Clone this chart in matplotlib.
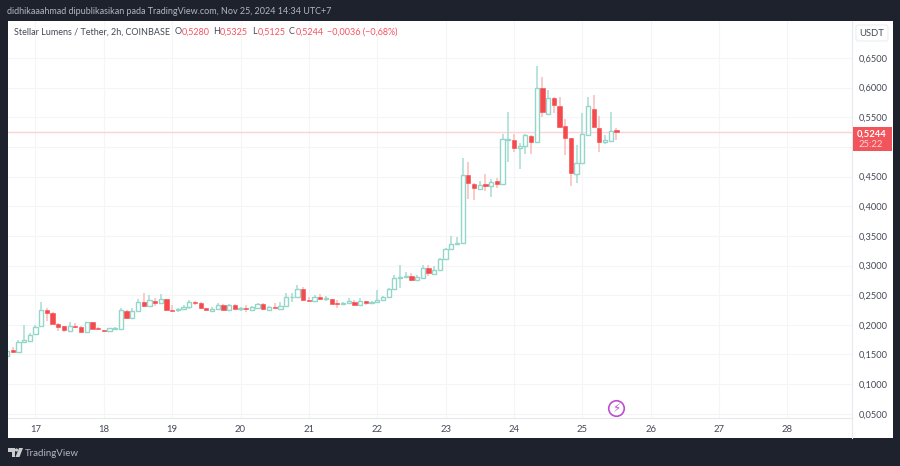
#!/usr/bin/env python3
# -*- coding: utf-8 -*-
import numpy as np
import matplotlib
matplotlib.use('Agg')
import matplotlib.pyplot as plt
from matplotlib.patches import Rectangle, FancyBboxPatch, Circle, Polygon

plt.rcParams['font.family'] = ['Lato', 'DejaVu Sans']

# 2h candles, first one sits 10 hours before the "17" tick
opens = [.1481, .1571, .1548, .1705, .1734, .1840, .1987, .2245, .2200, .2020, .1981, .1902,
         .1981, .1958, .1874, .2043, .1942, .1913, .1891, .1925, .1936, .2228, .2110, .2228,
         .2380, .2318, .2408, .2363, .2430, .2256, .2245, .2273, .2296, .2385, .2374, .2279,
         .2239, .2267, .2329, .2245, .2335, .2273, .2279, .2257, .2290, .2352, .2257, .2307,
         .2273, .2313, .2465, .2476, .2599, .2425, .2403, .2470, .2442, .2436, .2363, .2347,
         .2363, .2392, .2341, .2397, .2369, .2380, .2414, .2476, .2605, .2785, .2807, .2824,
         .2757, .2796, .2965, .2864, .2925, .3116, .3279, .3358, .3375, .4533, .4381, .4291,
         .4370, .4347, .4420, .4375, .5123, .5112, .4982, .5016, .5185, .5089, .5988, .5550,
         .5831, .5690, .5353, .5145, .4544, .4729, .5196, .5645, .5320, .5078, .5106, .5280]
highs = [.1559, .1632, .1745, .1998, .1857, .1998, .2391, .2290, .2223, .2037, .1981, .2043,
         .2037, .1981, .2054, .2054, .1958, .1919, .1947, .1970, .2290, .2251, .2290, .2436,
         .2532, .2498, .2447, .2520, .2442, .2341, .2290, .2341, .2419, .2397, .2380, .2290,
         .2296, .2363, .2352, .2358, .2347, .2302, .2330, .2318, .2375, .2375, .2324, .2375,
         .2392, .2538, .2543, .2678, .2633, .2476, .2504, .2526, .2493, .2442, .2414, .2380,
         .2453, .2425, .2459, .2408, .2403, .2583, .2487, .2622, .2847, .3010, .2892, .2869,
         .2847, .3004, .3010, .2998, .3130, .3302, .3504, .3476, .4808, .4746, .4392, .4431,
         .4538, .4454, .4471, .5218, .5584, .5218, .5061, .5218, .5201, .6365, .6185, .5960,
         .5848, .5837, .5466, .5145, .5033, .5567, .5837, .5876, .5522, .5201, .5595, .5325]
lows = [.1453, .1531, .1537, .1705, .1722, .1840, .1981, .2071, .2009, .1891, .1874, .1897,
        .1947, .1874, .1868, .1925, .1913, .1885, .1885, .1919, .1936, .2104, .2104, .2223,
        .2307, .2312, .2318, .2357, .2239, .2234, .2223, .2262, .2267, .2341, .2262, .2245,
        .2211, .2256, .2245, .2229, .2262, .2234, .2223, .2240, .2290, .2251, .2245, .2279,
        .2268, .2307, .2392, .2470, .2408, .2397, .2392, .2425, .2397, .2347, .2279, .2330,
        .2358, .2335, .2335, .2341, .2347, .2375, .2408, .2470, .2599, .2616, .2802, .2746,
        .2746, .2790, .2830, .2852, .2920, .3111, .3274, .3347, .3375, .4128, .4100, .4274,
        .4252, .4150, .4308, .4370, .4752, .4921, .4623, .4876, .4881, .5078, .5499, .5539,
        .5578, .5314, .4864, .4340, .4387, .4724, .5185, .5331, .4921, .5050, .5089, .5125]
closes = [.1559, .1548, .1717, .1739, .1829, .1970, .2256, .2200, .2015, .1970, .1908, .1975,
          .1958, .1874, .2048, .1936, .1925, .1891, .1942, .1942, .2256, .2116, .2228, .2380,
          .2318, .2414, .2369, .2430, .2251, .2239, .2273, .2296, .2391, .2363, .2279, .2245,
          .2273, .2341, .2245, .2341, .2273, .2290, .2262, .2296, .2358, .2262, .2302, .2290,
          .2318, .2476, .2476, .2599, .2414, .2408, .2476, .2436, .2453, .2352, .2347, .2363,
          .2403, .2341, .2397, .2369, .2380, .2425, .2476, .2599, .2785, .2813, .2824, .2757,
          .2802, .2954, .2875, .2931, .3105, .3279, .3364, .3380, .4527, .4392, .4308, .4358,
          .4336, .4409, .4375, .5128, .5128, .4982, .5016, .5201, .5089, .5988, .5595, .5831,
          .5702, .5342, .5145, .4555, .4729, .5218, .5690, .5342, .5089, .5123, .5263, .5244]

day_ticks = [17, 18, 19, 20, 21, 22, 23, 24, 25, 26, 27, 28]
price_ticks = [.05, .10, .15, .20, .25, .30, .35, .40, .45, .50, .55, .60, .65]
last_price = .5244

bg_dark = '#1e222d'
up_edge = '#93d6ca'
up_wick = '#a5dcd2'
down_body = '#f4494d'
down_wick = '#fabcbc'
grid_col = '#f4f5f7'
line_col = '#e6e8ec'
text_col = '#454955'
red_text = '#f7525f'

fig = plt.figure(figsize = (9, 4.66), dpi = 100, facecolor = bg_dark)

# overlay in pixels for panel background and the app chrome
over = fig.add_axes([0, 0, 1, 1], zorder = 0)
over.set_xlim(0, 900)
over.set_ylim(466, 0)
over.axis('off')
over.add_patch(Rectangle((7.5, 20.5), 885.5, 417.5, fc = 'white', ec = 'none'))

ax = fig.add_axes([8 / 900, (466 - 418) / 466, 844 / 900, 397.5 / 466], zorder = 1)
ax.set_facecolor('white')
ax.set_xlim(16.598, 28.946)
ax.set_ylim(.0429, .7132)

ax.grid(True, color = grid_col, lw = 0.8)
ax.set_axisbelow(True)
ax.set_xticks(day_ticks)
ax.set_xticklabels([str(d) for d in day_ticks])
ax.set_yticks(price_ticks)
ax.set_yticklabels(['' if p == .50 else '{:.4f}'.format(p).replace('.', ',') for p in price_ticks])
ax.yaxis.tick_right()
ax.tick_params(axis = 'x', length = 0, pad = 5, labelsize = 6.8, labelcolor = text_col)
ax.tick_params(axis = 'y', length = 0, pad = 5, labelsize = 6.7, labelcolor = text_col)
for side in ['top', 'left']:
    ax.spines[side].set_visible(False)
ax.spines['bottom'].set_color(line_col)
ax.spines['right'].set_color(line_col)
ax.spines['bottom'].set_linewidth(0.8)
ax.spines['right'].set_linewidth(0.8)

ax.axhline(last_price, color = '#fbd3d3', lw = 1.0, zorder = 1)

o = np.array(opens)
h = np.array(highs)
l = np.array(lows)
c = np.array(closes)
x = 17 + (np.arange(len(o)) - 5) / 12
up = c >= o
width = 0.062

ax.vlines(x[up], l[up], h[up], color = up_wick, lw = 1.1, zorder = 2)
ax.vlines(x[~up], l[~up], h[~up], color = down_wick, lw = 1.1, zorder = 2)
ax.bar(x[up], (c - o)[up], bottom = o[up], width = width, facecolor = 'white',
       edgecolor = up_edge, lw = 1.0, zorder = 3)
ax.bar(x[~up], (o - c)[~up], bottom = c[~up], width = width, facecolor = down_body,
       edgecolor = down_body, lw = 0.4, zorder = 3)

# event badge under the last candle
ax.scatter([x[-1]], [.0598], s = 125, facecolor = 'white', edgecolor = '#bc4fcb', lw = 1.2, zorder = 4, clip_on = False)
ax.text(x[-1], .0595, '\u26a1', color = '#bc4fcb', fontsize = 8.5, ha = 'center', va = 'center',
        family = 'DejaVu Sans', zorder = 5)

top = fig.add_axes([0, 0, 1, 1], zorder = 2)
top.set_xlim(0, 900)
top.set_ylim(466, 0)
top.axis('off')

top.plot([852, 852], [418, 438], color = line_col, lw = 0.8)
top.text(7, 11, 'didhikaaahmad dipublikasikan pada TradingView.com, Nov 25, 2024 14:34 UTC+7',
         color = '#b2b5be', fontsize = 6.5, va = 'center')

# ohlc legend row, pieces placed one by one
legend_bits = [(13.5, 'Stellar Lumens / Tether, 2h, COINBASE', text_col),
               (175, 'O', text_col), (181.5, '0,5280', red_text),
               (213.5, 'H', text_col), (220, '0,5325', red_text),
               (252, 'L', text_col), (257.5, '0,5125', red_text),
               (289, 'C', text_col), (295.5, '0,5244', red_text),
               (327, '\u22120,0036 (\u22120,68%)', red_text)]
for px, txt, col in legend_bits:
    top.text(px, 32, txt, color = col, fontsize = 6.45, va = 'center')

top.add_patch(FancyBboxPatch((856, 25), 32, 16, boxstyle = 'round,pad=0,rounding_size=2.5',
                             fc = 'white', ec = '#eceef1', lw = 0.8))
top.text(872, 33, 'USDT', color = text_col, fontsize = 6.8, ha = 'center', va = 'center')

top.add_patch(Rectangle((852.5, 127), 39.5, 24, fc = '#f2545b', ec = 'none'))
top.text(872, 134, '0,5244', color = 'white', fontsize = 6.8, fontweight = 'bold', ha = 'center', va = 'center')
top.text(871, 144.5, '25:22', color = '#fbd5d7', fontsize = 6.8, ha = 'center', va = 'center')

# TradingView logo bottom left
top.add_patch(Polygon([(8, 448), (15, 448), (15, 457), (11.5, 457), (11.5, 451.5), (8, 451.5)], fc = '#c9cbd1', ec = 'none'))
top.add_patch(Circle((16.5, 450), 1.6, fc = '#c9cbd1', ec = 'none'))
top.add_patch(Polygon([(19, 448), (23, 448), (19.5, 457), (15.5, 457)], fc = '#c9cbd1', ec = 'none'))
top.text(25, 453, 'TradingView', color = '#b2b5be', fontsize = 7.0, va = 'center')

fig.savefig('out.png', dpi = 100, facecolor = bg_dark)
